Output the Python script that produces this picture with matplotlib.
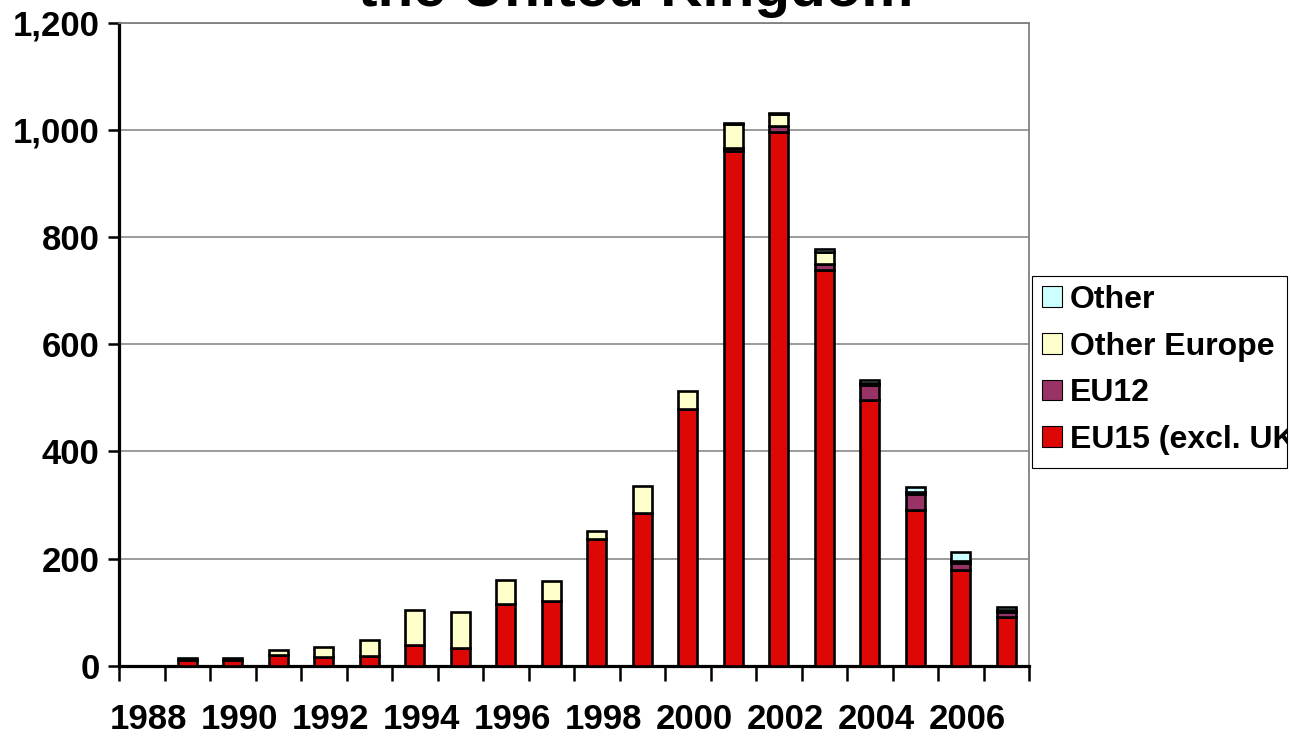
import matplotlib
matplotlib.use("Agg")
import matplotlib.pyplot as plt
import matplotlib.transforms as mtransforms
from matplotlib.patches import Patch, Rectangle
from matplotlib.ticker import FuncFormatter, FixedLocator

plt.rcParams['font.family'] = ['Liberation Sans', 'DejaVu Sans']
plt.rcParams['font.weight'] = 'bold'

# Annual values by origin, 1988-2007
years = list(range(1988, 2008))
eu15 = [0, 11, 10, 20, 17, 19, 38, 33, 115, 121, 236, 284, 478, 960, 995, 738, 496, 290, 178, 90]
eu12 = [0, 0, 0, 0, 0, 0, 0, 0, 0, 0, 0, 0, 0, 5, 11, 12, 27, 30, 13, 10]
other_europe = [0, 3, 5, 10, 18, 29, 65, 67, 44, 37, 16, 51, 35, 45, 24, 22, 4, 4, 5, 4]
other = [0, 0, 0, 0, 0, 0, 0, 0, 0, 0, 0, 0, 0, 2, 2, 6, 6, 9, 17, 6]

series_names = ["EU15 (excl. UK)", "EU12", "Other Europe", "Other"]
series_values = [eu15, eu12, other_europe, other]
series_colors = ["#DD0806", "#993366", "#FFFFCC", "#CCFFFF"]

y_ticks = [0, 200, 400, 600, 800, 1000, 1200]

W, H = 1291, 737
fig = plt.figure(figsize=(W / 100, H / 100), dpi=100)
ax = fig.add_axes([119 / W, (H - 665.7) / H, 910 / W, 643.2 / H])

x = list(range(len(years)))
bottom = [0] * len(years)
for name, vals, col in zip(series_names, series_values, series_colors):
    widths = [1.9 if v > 0 else 0 for v in vals]
    ax.bar(x, vals, width=0.41, bottom=bottom, color=col, edgecolor="black",
           linewidth=widths, zorder=3)
    bottom = [b + v for b, v in zip(bottom, vals)]

ax.set_xlim(-0.5, len(years) - 0.5)
ax.set_ylim(0, 1200)

# y axis
ax.set_yticks(y_ticks)
ax.yaxis.set_major_formatter(FuncFormatter(lambda v, p: f"{int(v):,}"))
ax.tick_params(axis="y", direction="out", length=8, width=1.8, pad=6,
               labelsize=25, colors="black")
ax.grid(axis="y", color="#808080", linewidth=1.1, zorder=0)

# x axis: tick marks between categories, labels on every second year
ax.xaxis.set_major_locator(FixedLocator([i - 0.5 for i in range(len(years) + 1)]))
ax.xaxis.set_major_formatter(FuncFormatter(lambda v, p: ""))
ax.xaxis.set_minor_locator(FixedLocator(x[::2]))
ax.set_xticklabels([str(y) for y in years[::2]], minor=True)
ax.tick_params(axis="x", which="major", direction="out", length=11, width=1.8)
ax.tick_params(axis="x", which="minor", length=0, pad=26.5, labelsize=25)
shift = mtransforms.ScaledTranslation(7 / 100, 0, fig.dpi_scale_trans)
for lbl in ax.xaxis.get_minorticklabels():
    lbl.set_transform(lbl.get_transform() + shift)
    lbl.set_fontweight("bold")
for lbl in ax.get_yticklabels():
    lbl.set_fontweight("bold")

for side in ("left", "bottom"):
    ax.spines[side].set_color("black")
    ax.spines[side].set_linewidth(2.3)
for side in ("top", "right"):
    ax.spines[side].set_color("#808080")
    ax.spines[side].set_linewidth(1.3)

# title (second line of the heading)
fig.text(636 / W, (H - 6) / H, "the United Kingdom", ha="center", va="baseline",
         fontsize=42, fontweight="bold")

# legend in a fixed box at the right
box_l, box_r, box_t, box_b = 1032, 1287, 276, 468
frame = Rectangle((box_l / W, (H - box_b) / H), (box_r - box_l) / W, (box_b - box_t) / H,
                  transform=fig.transFigure, facecolor="white", edgecolor="black",
                  linewidth=0.8, zorder=1)
fig.patches.append(frame)
handles = [Patch(facecolor=c, edgecolor="black", linewidth=0.8) for c in series_colors]
leg = fig.legend(handles[::-1], series_names[::-1], loc="upper left",
                 bbox_to_anchor=((box_l + 1) / W, (H - box_t) / H),
                 frameon=False, fontsize=23, handlelength=0.62, handleheight=0.62,
                 handletextpad=0.25, labelspacing=0.52, borderpad=0.28,
                 borderaxespad=0)
leg.set_zorder(2)
for t in leg.get_texts():
    t.set_fontweight("bold")
    t.set_clip_on(True)
    t.set_clip_path(frame)

fig.savefig("out.png", dpi=100)
